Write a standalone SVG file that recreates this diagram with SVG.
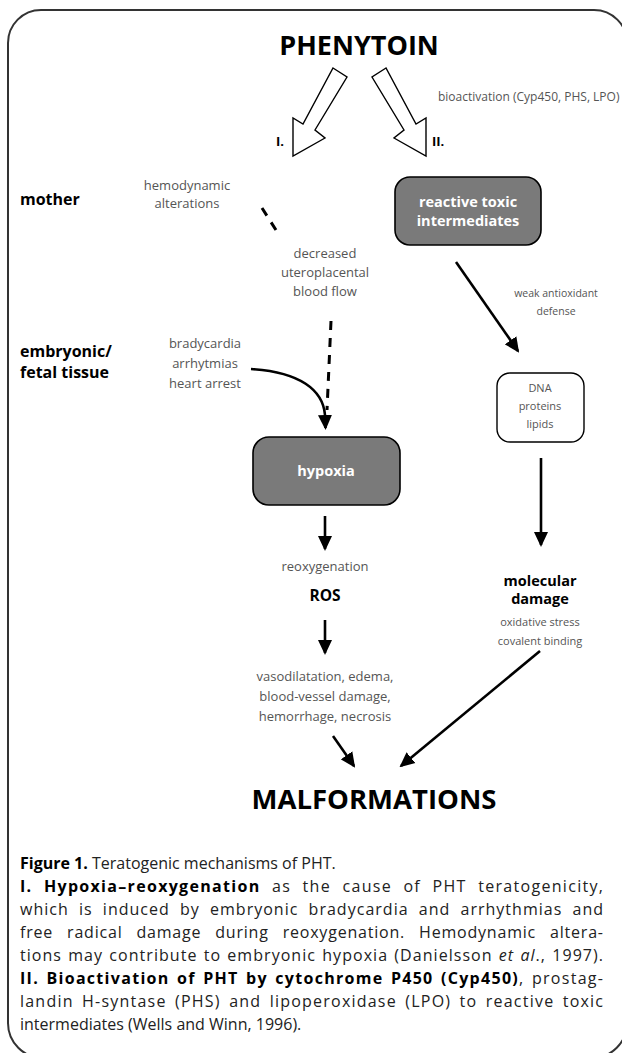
<svg xmlns="http://www.w3.org/2000/svg" width="622" height="1053" viewBox="0 0 622 1053">
<defs>
<style>
.t{font-family:"Open Sans","Liberation Sans",sans-serif;fill:#555;font-weight:400}
.b{font-family:"Open Sans","Liberation Sans",sans-serif;fill:#000;font-weight:700}
.w{font-family:"Open Sans","Liberation Sans",sans-serif;fill:#fff;font-weight:700;font-size:14.5px}
.c{font-family:"Open Sans","Liberation Sans",sans-serif;fill:#222;font-size:16px}
.cb{font-weight:700;fill:#000}
.ln{fill:none;stroke:#000;stroke-width:2.6}
.ds{fill:none;stroke:#000;stroke-width:3;stroke-dasharray:9 8}
.box{fill:#7a7a7a;stroke:#000;stroke-width:1.6}
.wbox{fill:#fff;stroke:#000;stroke-width:1.4}
.hol{fill:#fff;stroke:#000;stroke-width:1.4;stroke-linejoin:miter}
</style>
<marker id="ah" markerUnits="userSpaceOnUse" markerWidth="15" markerHeight="15" viewBox="0 0 15 15" refX="13" refY="7.5" orient="auto">
<path d="M0,0.5 L15,7.5 L0,14.5 Z" fill="#000"/>
</marker>
</defs>

<path d="M8,43 A33,33 0 0 1 41,10 L594,10 A33,33 0 0 1 627,43 L627,1023 A35,35 0 0 1 592,1058 L43,1058 A35,35 0 0 1 8,1023 Z" fill="none" stroke="#333" stroke-width="2"/>

<g id="phenytoin"><text class="b" x="359" y="55" font-size="27" text-anchor="middle">PHENYTOIN</text></g>

<g id="arrowI">
<polygon class="hol" points="333,68 347,77 315,130 325,138 293,156 293,118 303,124"/>
<text class="b" x="276" y="146" font-size="13">I.</text>
</g>
<g id="arrowII">
<polygon class="hol" points="386,68 372,77 404,130 394,138 426,156 426,118 416,124"/>
<text class="b" x="432" y="146" font-size="13">II.</text>
<text class="t" x="438" y="101" font-size="12">bioactivation (Cyp450, PHS, LPO)</text>
</g>

<g id="mother"><text class="b" x="20" y="205" font-size="16">mother</text></g>
<g id="embryonic"><text class="b" font-size="16"><tspan x="20" y="357">embryonic/</tspan><tspan x="20" y="378">fetal tissue</tspan></text></g>

<g id="hemodynamic"><text class="t" font-size="13" text-anchor="middle"><tspan x="187" y="190">hemodynamic</tspan><tspan x="187" y="208">alterations</tspan></text></g>
<g id="decreased"><text class="t" font-size="13" text-anchor="middle"><tspan x="325" y="258">decreased</tspan><tspan x="325" y="277">uteroplacental</tspan><tspan x="325" y="296">blood flow</tspan></text></g>
<g id="bradycardia"><text class="t" font-size="13" text-anchor="middle"><tspan x="205" y="348">bradycardia</tspan><tspan x="205" y="368">arrhytmias</tspan><tspan x="205" y="388">heart arrest</tspan></text></g>

<g id="hypoxia">
<rect class="box" x="253" y="437" width="147" height="68" rx="16"/>
<text class="w" x="326" y="476" text-anchor="middle">hypoxia</text>
</g>
<g id="reoxygenation"><text class="t" x="325" y="571" font-size="13" text-anchor="middle">reoxygenation</text></g>
<g id="ros"><text class="b" x="325" y="601" font-size="15.5" text-anchor="middle">ROS</text></g>
<g id="vaso"><text class="t" font-size="13" text-anchor="middle"><tspan x="325" y="681">vasodilatation, edema,</tspan><tspan x="325" y="701">blood-vessel damage,</tspan><tspan x="325" y="721">hemorrhage, necrosis</tspan></text></g>

<g id="reactive">
<rect class="box" x="395" y="177" width="146" height="68" rx="15"/>
<text class="w" text-anchor="middle"><tspan x="468" y="207">reactive toxic</tspan><tspan x="468" y="226">intermediates</tspan></text>
</g>
<g id="weak"><text class="t" font-size="10.5" text-anchor="middle"><tspan x="556" y="297">weak antioxidant</tspan><tspan x="556" y="315">defense</tspan></text></g>
<g id="dna">
<rect class="wbox" x="497" y="373" width="87" height="69" rx="13"/>
<text class="t" font-size="11" text-anchor="middle"><tspan x="540" y="392">DNA</tspan><tspan x="540" y="410">proteins</tspan><tspan x="540" y="428">lipids</tspan></text>
</g>
<g id="molecular">
<text class="b" font-size="14.5" text-anchor="middle"><tspan x="540" y="586">molecular</tspan><tspan x="540" y="604">damage</tspan></text>
<text class="t" font-size="11" text-anchor="middle"><tspan x="540" y="626">oxidative stress</tspan><tspan x="540" y="645">covalent binding</tspan></text>
</g>

<g id="malformations"><text class="b" x="374" y="809" font-size="27.5" text-anchor="middle">MALFORMATIONS</text></g>

<g id="connectors">
<line class="ds" x1="262" y1="208" x2="276" y2="230" stroke-dasharray="8 7"/>
<path class="ds" d="M331,321 L327,410"/>
<path class="ln" d="M251,369 C300,372 323,390 325,415 L325.5,428" marker-end="url(#ah)"/>
<line class="ln" x1="325" y1="516" x2="325" y2="549" marker-end="url(#ah)"/>
<line class="ln" x1="325" y1="620" x2="325" y2="653" marker-end="url(#ah)"/>
<line class="ln" x1="333" y1="736" x2="354" y2="766" marker-end="url(#ah)"/>
<line class="ln" x1="540" y1="651" x2="401" y2="766" marker-end="url(#ah)"/>
<line class="ln" x1="456" y1="262" x2="518" y2="351" marker-end="url(#ah)"/>
<line class="ln" x1="541" y1="458" x2="541" y2="545" marker-end="url(#ah)"/>
</g>

<g id="caption">
<text class="c" x="20" y="869"><tspan class="cb">Figure 1.</tspan> Teratogenic mechanisms of PHT.</text>
<text class="c" x="20" y="892" word-spacing="6" textLength="583" lengthAdjust="spacing"><tspan class="cb">I. Hypoxia–reoxygenation</tspan> as the cause of PHT teratogenicity,</text>
<text class="c" x="20" y="915" word-spacing="5" textLength="583" lengthAdjust="spacing">which is induced by embryonic bradycardia and arrhythmias and</text>
<text class="c" x="20" y="938" word-spacing="9" textLength="583" lengthAdjust="spacing">free radical damage during reoxygenation. Hemodynamic altera-</text>
<text class="c" x="20" y="961" word-spacing="1" textLength="583" lengthAdjust="spacing">tions may contribute to embryonic hypoxia (Danielsson <tspan font-style="italic">et al</tspan>., 1997).</text>
<text class="c" x="20" y="984" word-spacing="2" textLength="583" lengthAdjust="spacing"><tspan class="cb">II. Bioactivation of PHT by cytochrome P450 (Cyp450)</tspan>, prostag-</text>
<text class="c" x="20" y="1007" word-spacing="3" textLength="583" lengthAdjust="spacing">landin H-syntase (PHS) and lipoperoxidase (LPO) to reactive toxic</text>
<text class="c" x="20" y="1030">intermediates (Wells and Winn, 1996).</text>
</g>
</svg>
